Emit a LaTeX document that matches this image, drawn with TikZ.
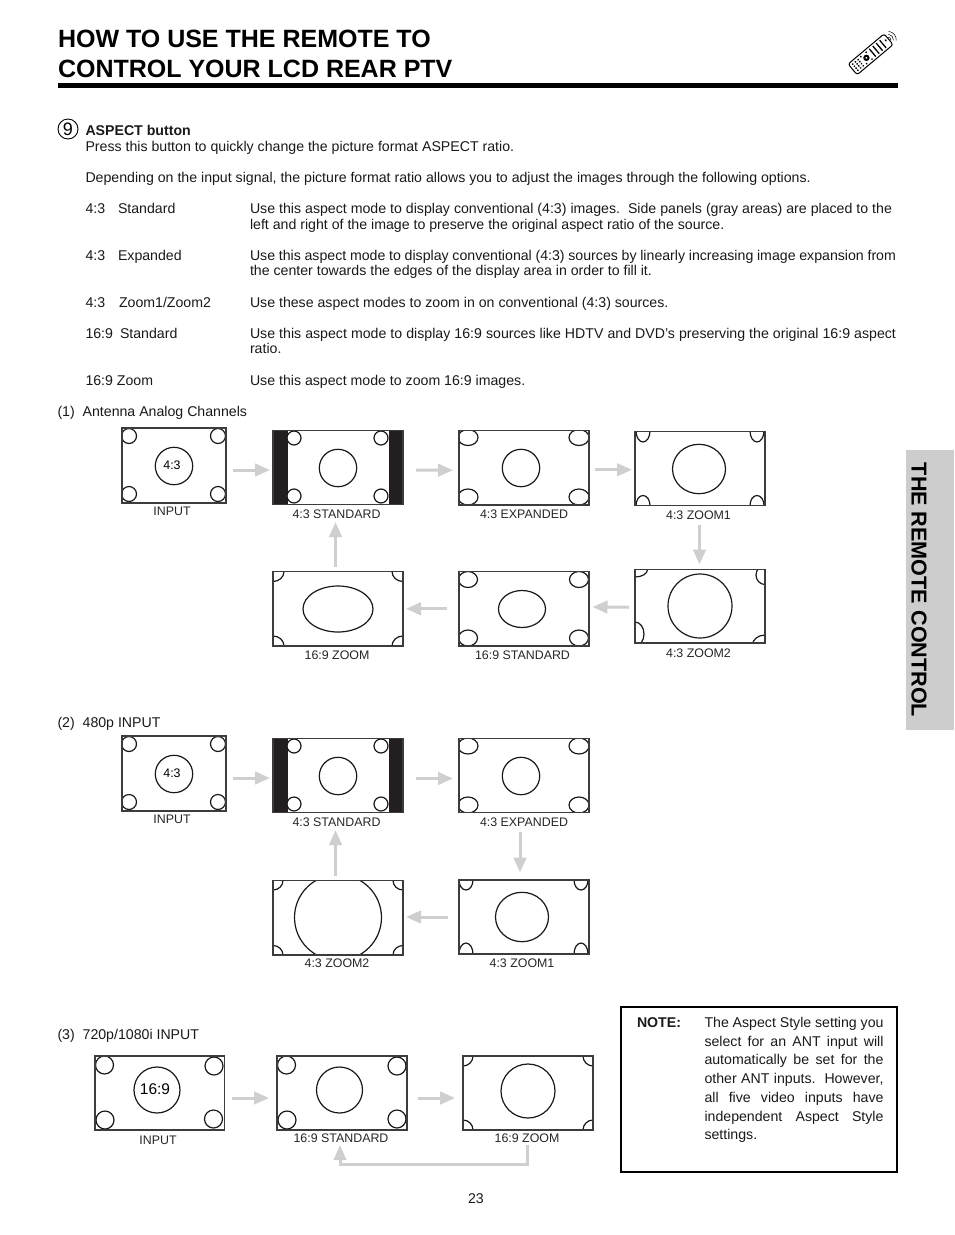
\documentclass[tikz,border=0pt]{standalone}
\usepackage{fontspec}
\setmainfont{Liberation Sans}
\usetikzlibrary{arrows.meta,calc}
\definecolor{flowgray}{HTML}{CFCFCF}
\definecolor{tabgray}{HTML}{CDCDCD}
\definecolor{barblack}{HTML}{231F20}
\definecolor{edgegray}{HTML}{3C3C3C}
\tikzset{
  x=1pt,y=-1pt,
  txt/.style={anchor=base west,inner sep=0pt,outer sep=0pt,font=\fontsize{14.15}{17}\selectfont,text=black!90},
  captxt/.style={inner sep=0pt,outer sep=0pt,anchor=base,font=\fontsize{12.4}{15}\selectfont,text=black!85},
  screenbox/.style={draw=edgegray,line width=1.4pt,inner sep=0pt,outer sep=0pt,anchor=north west},
  shp/.style={draw=black!90,line width=1.2pt,fill=white},
  flow/.style={draw=flowgray,line width=3pt,-{Triangle[length=15pt,width=12.5pt]}},
}
\newcommand\T[4]{\node[txt] (#1) at (#2,#3) {#4};}
\newcommand\J[5]{\node[txt] (#1) at (#2,#3) {\hbox to #4pt{#5}};}
\newcommand\C[4]{\node[captxt] (#1) at (#2,#3) {#4};}
% name x1 y1 x2 y2 contents
\newcommand\Scr[6]{%
  \begin{scope}\clip (#2,#3) rectangle (#4,#5); #6 \end{scope}
  \pgfmathsetmacro\scrw{#4-#2}\pgfmathsetmacro\scrh{#5-#3}
  \node[screenbox,minimum width=\scrw pt,minimum height=\scrh pt] (#1) at (#2,#3) {};}
\newcommand\E[4]{\draw[shp] (#1,#2) ellipse [x radius=#3,y radius=#4];}
\newcommand\Bars[2]{\fill[barblack] (272,#1) rectangle (287.5,#2); \fill[barblack] (388.5,#1) rectangle (404,#2);}
\begin{document}
\begin{tikzpicture}
\useasboundingbox (0,0) rectangle (954,1235);
% Title
\node[txt,font=\bfseries\fontsize{25}{30}\selectfont,text=black] (t1) at (58,47.5) {HOW TO USE THE REMOTE TO};
\node[txt,font=\bfseries\fontsize{25}{30}\selectfont,text=black] (t2) at (58,77.5) {CONTROL YOUR LCD REAR PTV};
\fill[black] (58,83) rectangle (898,87.5);
% Remote icon
\begin{scope}[shift={(871,54)},rotate=40]
  \draw[black,line width=1pt,rounded corners=2.5pt] (-24,-7) rectangle (23,7);
  \foreach \i in {2,6.5,11,15.5}{\draw[black,line width=1.3pt] (\i,-5) -- (\i,5);}
  \fill[black] (-6,0) circle (3.2);
  \fill[white] (-6,0) circle (1);
  \foreach \i in {-20.5,-17,-13.5}{\foreach \j in {-4,-1.3,1.3,4}{\fill[black] (\i,\j) circle (1);}}
  \foreach \j in {-4.5,4.5}{\fill[black] (-9.5,\j) circle (1);\fill[black] (-2.5,\j) circle (1);}
  \fill[black] (20,-1) circle (1.2);
  \draw[black,line width=.5pt] (24,-2) arc (-45:45:3);
  \draw[black,line width=.5pt] (26,-4) arc (-45:45:5.6);
  \draw[black,line width=.5pt] (28,-6) arc (-45:45:8.4);
\end{scope}
% Side tab
\fill[tabgray] (906,450) rectangle (954,730);
\node[rotate=-90,inner sep=0pt,font=\bfseries\fontsize{21.6}{24}\selectfont,text=black] (tab) at (919,590) {THE REMOTE CONTROL};
% Body
\node[circle,draw=black,line width=.9pt,minimum size=20pt,inner sep=0pt,font=\fontsize{18}{20}\selectfont] (nine) at (68,129) {9};
\node[txt,font=\bfseries\fontsize{14.15}{17}\selectfont] (a0) at (85.5,135) {ASPECT button};
\T{a1}{85.5}{151}{Press this button to quickly change the picture format ASPECT ratio.}
\T{a2}{85.5}{182}{Depending on the input signal, the picture format ratio allows you to adjust the images through the following options.}
\T{b1}{85.5}{213}{4:3}\T{b1n}{118}{213}{Standard}
\J{b1a}{250}{213}{642}{Use this aspect mode to display conventional (4:3) images.\ \ Side panels (gray areas) are placed to the}
\T{b1b}{250}{229}{left and right of the image to preserve the original aspect ratio of the source.}
\T{b2}{85.5}{260}{4:3}\T{b2n}{118}{260}{Expanded}
\J{b2a}{250}{260}{646}{Use this aspect mode to display conventional (4:3) sources by linearly increasing image expansion from}
\T{b2b}{250}{275}{the center towards the edges of the display area in order to fill it.}
\T{b3}{85.5}{307}{4:3}\T{b3n}{119}{307}{Zoom1/Zoom2}
\T{b3a}{250}{307}{Use these aspect modes to zoom in on conventional (4:3) sources.}
\T{b4}{85.5}{338}{16:9}\T{b4n}{120}{338}{Standard}
\J{b4a}{250}{338}{646}{Use this aspect mode to display 16:9 sources like HDTV and DVD’s preserving the original 16:9 aspect}
\T{b4b}{250}{353}{ratio.}
\T{b5}{85.5}{385}{16:9 Zoom}
\T{b5a}{250}{385}{Use this aspect mode to zoom 16:9 images.}
\T{h1}{57.5}{416}{(1)\ \ Antenna Analog Channels}
\T{h2}{57.5}{727}{(2)\ \ 480p INPUT}
\T{h3}{57.5}{1039}{(3)\ \ 720p/1080i INPUT}
% ---- Section 1
\Scr{i1}{122}{428}{226}{503}{\E{174}{466}{18.7}{18.7}\E{129}{436}{7.5}{7.5}\E{218}{436}{7.5}{7.5}\E{129}{494}{7.5}{7.5}\E{218}{494}{7.5}{7.5}}
\node[inner sep=0pt,font=\fontsize{12.4}{15}\selectfont] (i1t) at (172,465.5) {4:3};
\C{i1c}{172}{515.5}{INPUT}
\Scr{s1}{273}{430.5}{403}{504.5}{\Bars{430}{505}\E{338}{468}{18.7}{18.7}\E{294}{438}{7}{7}\E{381}{438}{7}{7}\E{294}{496}{7}{7}\E{381}{496}{7}{7}}
\C{s1c}{336.5}{518}{4:3 STANDARD}
\Scr{e1}{459}{430.5}{589}{505}{\E{521}{468}{18.7}{18.7}\E{468}{437.5}{10}{8}\E{579}{437.5}{10}{8}\E{468}{497}{10}{8}\E{579}{497}{10}{8}}
\C{e1c}{524}{518}{4:3 EXPANDED}
\Scr{za1}{635}{431.5}{765}{505.5}{\E{699}{469}{26.5}{24.7}\E{643}{431}{7}{11}\E{757}{431}{7}{11}\E{643}{505.5}{7}{10}\E{757}{505.5}{7}{10}}
\C{za1c}{698.5}{519}{4:3 ZOOM1}
\Scr{zb1}{635}{569.5}{765}{643}{\E{700}{606}{32}{32}\E{635}{569.5}{12.5}{7.5}\E{765}{575}{9}{9.5}\E{635}{634}{9}{12}\E{765}{645}{12.5}{10}}
\C{zb1c}{698.5}{657}{4:3 ZOOM2}
\Scr{st1}{459}{571.5}{589}{646}{\E{522}{609}{23.5}{18.5}\E{468}{579.5}{9.5}{8}\E{579}{579.5}{9.5}{8}\E{468}{638}{9.5}{8}\E{579}{638}{9.5}{8}}
\C{st1c}{522.5}{659}{16:9 STANDARD}
\Scr{zz1}{273}{571.5}{403}{646}{\E{338}{609}{35}{23}\E{273}{571.5}{11}{10}\E{403}{571.5}{11}{10}\E{273}{646}{11}{10}\E{403}{646}{11}{10}}
\C{zz1c}{337}{659}{16:9 ZOOM}
\draw[flow] ([shift={(7,4.5)}]i1.east) -- ([shift={(-3,2.5)}]s1.west);
\draw[flow] ([shift={(13,2.5)}]s1.east) -- ([shift={(-6,2.5)}]e1.west);
\draw[flow] ([shift={(6,2)}]e1.east) -- ([shift={(-3,1.25)}]za1.west);
\draw[flow] ([shift={(1,6)}]za1c.south) -- ([shift={(1,-5)}]za1c.south |- zb1.north);
\draw[flow] ([shift={(-6,1)}]zb1.west) -- ([shift={(3.5,-1.75)}]st1.east);
\draw[flow] ([shift={(-12,0)}]st1.west) -- ([shift={(3,0)}]zz1.east);
\draw[flow] ([shift={(-2.5,-4.5)}]zz1.north) -- ([shift={(-1,4)}]s1c.south);
% ---- Section 2
\Scr{i2}{122}{736}{226}{811}{\E{174}{774}{18.7}{18.7}\E{129}{744}{7.5}{7.5}\E{218}{744}{7.5}{7.5}\E{129}{802}{7.5}{7.5}\E{218}{802}{7.5}{7.5}}
\node[inner sep=0pt,font=\fontsize{12.4}{15}\selectfont] (i2t) at (172,773.5) {4:3};
\C{i2c}{172}{823.5}{INPUT}
\Scr{s2}{273}{738.5}{403}{812.5}{\Bars{738}{813}\E{338}{776}{18.7}{18.7}\E{294}{746}{7}{7}\E{381}{746}{7}{7}\E{294}{804}{7}{7}\E{381}{804}{7}{7}}
\C{s2c}{336.5}{826}{4:3 STANDARD}
\Scr{e2}{459}{738.5}{589}{812.5}{\E{521}{776}{18.7}{18.7}\E{468}{746}{10}{8}\E{579}{746}{10}{8}\E{468}{805}{10}{8}\E{579}{805}{10}{8}}
\C{e2c}{524}{826}{4:3 EXPANDED}
\Scr{za2}{459}{880}{589}{954}{\E{522}{917}{26.5}{24.7}\E{466}{880}{7}{10}\E{581}{880}{7}{10}\E{466}{954}{7}{11}\E{581}{954}{7}{11}}
\C{za2c}{522}{967}{4:3 ZOOM1}
\Scr{zb2}{273}{880.5}{403}{955}{\E{338}{917.5}{43.5}{43}\E{273}{880.5}{10}{9.5}\E{403}{880.5}{10}{9.5}\E{273}{955}{10}{9.5}\E{403}{955}{10}{9.5}}
\C{zb2c}{337}{967}{4:3 ZOOM2}
\draw[flow] ([shift={(7,4.5)}]i2.east) -- ([shift={(-3,2.5)}]s2.west);
\draw[flow] ([shift={(13,3)}]s2.east) -- ([shift={(-6,3)}]e2.west);
\draw[flow] ([shift={(-4,6)}]e2c.south) -- ([shift={(-4,-7.5)}]e2c.south |- za2.north);
\draw[flow] ([shift={(-11,0)}]za2.west) -- ([shift={(3,-0.75)}]zb2.east);
\draw[flow] ([shift={(-2.5,-5)}]zb2.north) -- ([shift={(-1,4)}]s2c.south);
% ---- Section 3
\Scr{i3}{95}{1056}{224.5}{1130}{\E{157}{1090}{23}{23}\E{104.5}{1065}{9}{9}\E{214}{1066}{9}{9}\E{105}{1120}{9}{9}\E{213.5}{1119}{9}{9}}
\node[inner sep=0pt,font=\fontsize{15.5}{18}\selectfont] (i3t) at (155,1089) {16:9};
\C{i3c}{158}{1144}{INPUT}
\Scr{s3}{277}{1056}{407}{1130}{\E{339.5}{1090}{23}{23}\E{286.5}{1065}{9}{9}\E{397}{1066}{9}{9}\E{287}{1120}{9}{9}\E{397}{1119}{9}{9}}
\C{s3c}{341}{1142}{16:9 STANDARD}
\Scr{z3}{463}{1056}{593}{1130}{\E{528}{1091}{27}{27}\E{463}{1056}{10}{10}\E{593}{1056}{10}{10}\E{463}{1130}{10}{10}\E{593}{1130}{10}{10}}
\C{z3c}{527}{1142}{16:9 ZOOM}
\draw[flow] ([shift={(7,5)}]i3.east) -- ([shift={(-8,5)}]s3.west);
\draw[flow] ([shift={(11,5)}]s3.east) -- ([shift={(-8,5)}]z3.west);
\draw[flow] ([shift={(0,3)}]z3c.south) -- ++(0,19) -| ([shift={(-1,3)}]s3c.south);
% ---- Note
\node[draw=black,line width=2pt,inner sep=0pt,outer sep=0pt,anchor=north west,minimum width=276pt,minimum height=165pt] (note) at (621,1007) {};
\node[txt,font=\bfseries\fontsize{14.15}{17}\selectfont] (noteh) at (637,1027) {NOTE:};
\J{n1}{704.5}{1027}{179}{The Aspect Style setting you}
\J{n2}{704.5}{1046}{179}{select for an ANT input will}
\J{n3}{704.5}{1064.5}{179}{automatically be set for the}
\J{n4}{704.5}{1083}{179}{other ANT inputs.\ \ However,}
\J{n5}{704.5}{1102}{179}{all five video inputs have}
\J{n6}{704.5}{1121}{179}{independent Aspect Style}
\T{n7}{704.5}{1139.5}{settings.}
\T{pg}{468}{1203}{23}
\end{tikzpicture}
\end{document}
